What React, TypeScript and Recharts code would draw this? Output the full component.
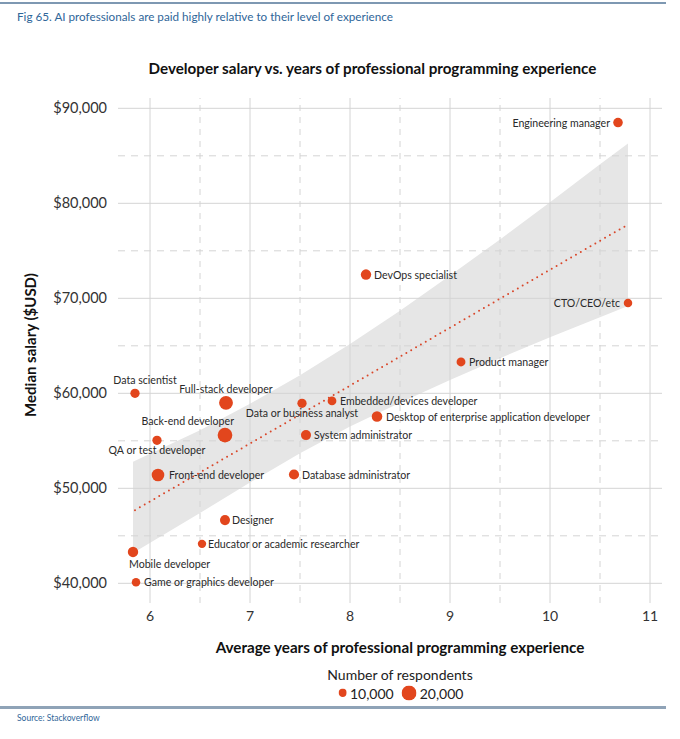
import React from 'react';
import { ComposedChart, XAxis, YAxis, ZAxis, Scatter, Area, ReferenceLine } from 'recharts';

// ---- data ----
const roles = [
  'Engineering manager',
  'DevOps specialist',
  'CTO/CEO/etc',
  'Product manager',
  'Data scientist',
  'Full-stack developer',
  'Embedded/devices developer',
  'Data or business analyst',
  'Desktop of enterprise application developer',
  'Back-end developer',
  'System administrator',
  'QA or test developer',
  'Front-end developer',
  'Database administrator',
  'Designer',
  'Educator or academic researcher',
  'Mobile developer',
  'Game or graphics developer',
];
const avgYears = [10.68, 8.16, 10.78, 9.11, 5.85, 6.76, 7.82, 7.52, 8.27, 6.75, 7.56, 6.07, 6.08, 7.44, 6.75, 6.52, 5.83, 5.86];
const medianSalary = [88500, 72500, 69500, 63300, 60000, 59000, 59200, 58950, 57550, 55600, 55600, 55050, 51400, 51450, 46650, 44150, 43300, 40100];
const respondents = [8200, 9600, 6500, 7000, 7700, 17000, 6800, 7700, 10000, 19200, 9000, 7700, 14100, 9200, 9000, 6300, 9600, 6500];

const bandYears = [5.83, 6.5, 7, 7.5, 8, 8.5, 9, 9.5, 10, 10.5, 10.78];
const bandLow = [43200, 47400, 50600, 53700, 56500, 59000, 61400, 63700, 65900, 68000, 69200];
const bandHigh = [52800, 56100, 58900, 61900, 65200, 68700, 72400, 76200, 80100, 84100, 86300];

const trendYears = [5.85, 10.77];
const trendSalary = [47700, 77700];

const xTicks = [6, 7, 8, 9, 10, 11];
const xMinorTicks = [6.5, 7.5, 8.5, 9.5, 10.5];
const yTicks = [40000, 50000, 60000, 70000, 80000, 90000];
const yMinorTicks = [45000, 55000, 65000, 75000, 85000];

const legendValues = [10000, 20000];

// ---- styles ----
const FONT = 'Lato, "Noto Sans", sans-serif';
const DOT = '#E2461D';
const TEXT = '#2a2a2a';
const GRID = '#d4d4d4';

const labelPlacement: Record<string, { dx: number; dy: number; anchor: 'start' | 'middle' | 'end' }> = {
  'Engineering manager': { dx: -8, dy: 0, anchor: 'end' },
  'DevOps specialist': { dx: 8, dy: 0, anchor: 'start' },
  'CTO/CEO/etc': { dx: -8, dy: 0, anchor: 'end' },
  'Product manager': { dx: 8, dy: 0, anchor: 'start' },
  'Data scientist': { dx: 10, dy: -13, anchor: 'middle' },
  'Full-stack developer': { dx: 0, dy: -14, anchor: 'middle' },
  'Embedded/devices developer': { dx: 8, dy: 0, anchor: 'start' },
  'Data or business analyst': { dx: 0, dy: 10, anchor: 'middle' },
  'Desktop of enterprise application developer': { dx: 9, dy: 0, anchor: 'start' },
  'Back-end developer': { dx: 9, dy: -14, anchor: 'end' },
  'System administrator': { dx: 8, dy: 0, anchor: 'start' },
  'QA or test developer': { dx: 0, dy: 10, anchor: 'middle' },
  'Front-end developer': { dx: 11, dy: 0, anchor: 'start' },
  'Database administrator': { dx: 8, dy: 0, anchor: 'start' },
  'Designer': { dx: 7, dy: 0, anchor: 'start' },
  'Educator or academic researcher': { dx: 6, dy: 0, anchor: 'start' },
  'Mobile developer': { dx: -4, dy: 12, anchor: 'start' },
  'Game or graphics developer': { dx: 8, dy: 0, anchor: 'start' },
};

const roleRows = roles.map((name, i) => ({ name, x: avgYears[i], y: medianSalary[i], count: respondents[i] }));
const bandRows = bandYears.map((x, i) => ({ x, band: [bandLow[i], bandHigh[i]] }));
const trendRows = trendYears.map((x, i) => ({ x, y: trendSalary[i] }));

const ZDOMAIN: [number, number] = [10000, 20000];
const ZRANGE: [number, number] = [55.4, 176.7];

const RoleDot = (props: any) => {
  const { cx, cy, size, payload, width } = props;
  if (cx == null || cy == null) return <g />;
  const r = size ? Math.sqrt(size / Math.PI) : (width ?? 8) / 2;
  const p = labelPlacement[payload.name] || { dx: 8, dy: 0, anchor: 'start' };
  return (
    <g>
      <circle cx={cx} cy={cy} r={r} fill={DOT} />
      <text
        x={cx + p.dx}
        y={cy + p.dy}
        textAnchor={p.anchor}
        dominantBaseline="central"
        fontFamily={FONT}
        fontSize={10.6}
        fill={TEXT}
      >
        {payload.name}
      </text>
    </g>
  );
};

const NoDot = () => <g />;

const fmtMoney = (v: number) => '$' + v.toLocaleString('en-US');

export default function App() {
  const legendR = legendValues.map(
    (v) => Math.sqrt((ZRANGE[0] + ((v - ZDOMAIN[0]) / (ZDOMAIN[1] - ZDOMAIN[0])) * (ZRANGE[1] - ZRANGE[0])) / Math.PI)
  );
  return (
    <div style={{ position: 'absolute', left: 0, top: 0, width: 680, height: 739, background: '#fff', fontFamily: FONT }}>
      <div style={{ position: 'absolute', left: 0, top: 2, width: 666, height: 2, background: '#7e98b2' }} />
      <div style={{ position: 'absolute', left: 17, top: 9, fontSize: 11.7, color: '#2f6699', whiteSpace: 'nowrap' }}>
        Fig 65. AI professionals are paid highly relative to their level of experience
      </div>
      <div style={{ position: 'absolute', left: 0, width: 745, top: 59, textAlign: 'center', fontSize: 15.2, fontWeight: 700, color: '#111', whiteSpace: 'nowrap' }}>
        Developer salary vs. years of professional programming experience
      </div>

      <div style={{ position: 'absolute', left: 0, top: 0 }}>
        <ComposedChart width={680} height={739} data={bandRows} margin={{ top: 98, right: 18, left: 0, bottom: 106 }}>
          <XAxis
            dataKey="x"
            type="number"
            domain={[5.68, 11.12]}
            ticks={xTicks}
            axisLine={false}
            tickLine={false}
            tickMargin={2}
            height={30}
            tick={{ fontSize: 14, fill: '#333', fontFamily: FONT }}
          />
          <YAxis
            type="number"
            domain={[37926, 91084]}
            ticks={yTicks}
            axisLine={false}
            tickLine={false}
            tickMargin={5}
            width={118}
            tickFormatter={fmtMoney}
            tick={{ fontSize: 14.5, fill: '#333', fontFamily: FONT }}
          />
          <ZAxis dataKey="count" type="number" domain={ZDOMAIN} range={ZRANGE} />
          <Area dataKey="band" type="linear" stroke="none" fill="#e6e6e6" fillOpacity={1} isAnimationActive={false} />
          {yTicks.map((v) => (
            <ReferenceLine key={'ys' + v} y={v} stroke={GRID} strokeWidth={1} />
          ))}
          {yMinorTicks.map((v) => (
            <ReferenceLine key={'yd' + v} y={v} stroke={GRID} strokeWidth={1} strokeDasharray="7 6" />
          ))}
          {xTicks.map((v) => (
            <ReferenceLine key={'xs' + v} x={v} stroke={GRID} strokeWidth={1} />
          ))}
          {xMinorTicks.map((v) => (
            <ReferenceLine key={'xd' + v} x={v} stroke={GRID} strokeWidth={1} strokeDasharray="6 6" />
          ))}
          <Scatter
            data={trendRows}
            dataKey="y"
            shape={NoDot}
            line={{ stroke: '#d9472a', strokeWidth: 2, strokeDasharray: '0 5.6', strokeLinecap: 'round' }}
            lineType="joint"
            isAnimationActive={false}
          />
          <Scatter data={roleRows} dataKey="y" shape={RoleDot} isAnimationActive={false} />
        </ComposedChart>
      </div>

      <div
        style={{
          position: 'absolute', left: 30, top: 345, transform: 'translate(-50%, -50%) rotate(-90deg)',
          fontSize: 15, fontWeight: 700, color: '#111', whiteSpace: 'nowrap',
        }}
      >
        Median salary ($USD)
      </div>
      <div style={{ position: 'absolute', left: 400, top: 647, transform: 'translate(-50%, -50%)', fontSize: 15.2, fontWeight: 700, color: '#111', whiteSpace: 'nowrap' }}>
        Average years of professional programming experience
      </div>
      <div style={{ position: 'absolute', left: 400, top: 674, transform: 'translate(-50%, -50%)', fontSize: 14, color: '#222', whiteSpace: 'nowrap' }}>
        Number of respondents
      </div>
      <div style={{ position: 'absolute', left: 401, top: 693, transform: 'translate(-50%, -50%)', display: 'flex', alignItems: 'center', fontSize: 14, color: '#222', whiteSpace: 'nowrap' }}>
        {legendValues.map((v, i) => (
          <div key={v} style={{ display: 'flex', alignItems: 'center', marginLeft: i ? 8 : 0 }}>
            <svg width={legendR[i] * 2} height={legendR[i] * 2} style={{ marginRight: 3 }}>
              <circle cx={legendR[i]} cy={legendR[i]} r={legendR[i]} fill={DOT} />
            </svg>
            <span>{v.toLocaleString('en-US')}</span>
          </div>
        ))}
      </div>
      <div style={{ position: 'absolute', left: 0, top: 706, width: 666, height: 3, background: '#8fa3b7' }} />
      <div style={{ position: 'absolute', left: 17, top: 713, fontSize: 8.5, color: '#2f6699', whiteSpace: 'nowrap' }}>
        Source: Stackoverflow
      </div>
    </div>
  );
}
